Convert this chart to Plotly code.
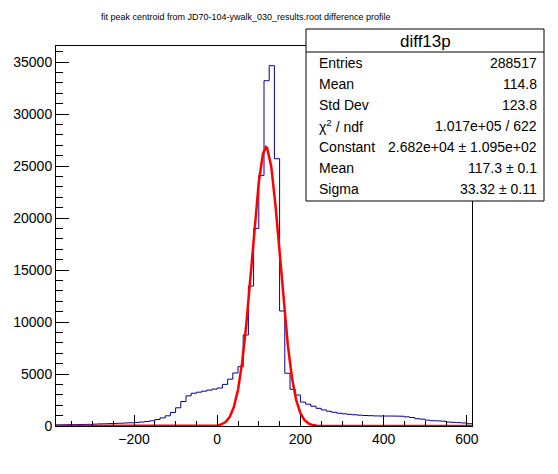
import numpy as np
import plotly.graph_objects as go

# histogram diff13p: 80 bins of 12.5 from -387.5 to 612.5
BIN_LOW = -387.5
BIN_WIDTH = 12.5
counts = [
    110, 120, 130, 130, 140, 150, 160, 180, 200, 210,
    230, 250, 270, 290, 310, 340, 380, 430, 500, 620,
    780, 980, 1300, 1750, 2350, 2900, 3150, 3250, 3350, 3450,
    3550, 3650, 4000, 4500, 5100, 5700, 8750, 13460, 19000, 24100,
    33200, 34650, 25700, 11060, 5070, 3530, 2980, 2300, 2100, 1900,
    1700, 1550, 1420, 1320, 1230, 1170, 1120, 1080, 1040, 1010,
    990, 970, 960, 960, 960, 950, 940, 880, 820, 700,
    660, 560, 510, 490, 460, 380, 350, 320, 290, 220,
]
edges = BIN_LOW + BIN_WIDTH * np.arange(len(counts) + 1)

# gaus fit curve
fit_x = [-387.5, -10, 0, 10, 20, 30, 40, 50, 60, 70, 80, 90, 100, 110, 117.3,
         120, 130, 140, 150, 160, 170, 180, 190, 200, 210, 220, 230, 240, 250, 612.5]
fit_y = [0, 18, 55, 150, 377, 867, 1819, 3489, 6115, 9792, 14333, 19174, 23438, 26184, 26820,
         26732, 24942, 21266, 16569, 11798, 7679, 4566, 2482, 1233, 560, 232, 88, 30, 10, 0]

x_ticks = [-200, 0, 200, 400, 600]
y_ticks = [0, 5000, 10000, 15000, 20000, 25000, 30000, 35000]

stats_title = "diff13p"
stats_labels = ["Entries", "Mean", "Std Dev", "χ<sup>2</sup> / ndf", "Constant", "Mean", "Sigma"]
stats_values = ["288517", "114.8", "123.8", "1.017e+05 / 622",
                "2.682e+04 ± 1.095e+02", "117.3 ± 0.1", "33.32 ± 0.11"]

TITLE = "fit peak centroid from JD70-104-ywalk_030_results.root difference profile"

# frame in pixels
L, R, T, B = 56, 472, 46, 426
W, H = 558, 474


def px(x):
    return (x - L) / (R - L)


def py(y):
    return (B - y) / (B - T)


FONT = "Liberation Sans, Arial, Helvetica, sans-serif"

fig = go.Figure()

fig.add_trace(go.Scatter(
    x=edges,
    y=counts + [counts[-1]],
    mode="lines",
    line=dict(shape="hv", color="#000099", width=1),
    hoverinfo="skip",
))

fig.add_trace(go.Scatter(
    x=fit_x,
    y=fit_y,
    mode="lines",
    line=dict(color="#ff0000", width=2.5),
    hoverinfo="skip",
))

axis_common = dict(
    showgrid=False,
    zeroline=False,
    showline=True,
    linecolor="black",
    linewidth=1,
    mirror=True,
    ticks="inside",
    tickcolor="black",
    tickfont=dict(family=FONT, size=14, color="black"),
)

fig.update_xaxes(
    range=[BIN_LOW, BIN_LOW + BIN_WIDTH * len(counts)],
    tickvals=x_ticks,
    ticktext=[str(v).replace("-", "\u2212") for v in x_ticks],
    ticklen=11,
    minor=dict(dtick=50, tick0=0, ticks="inside", ticklen=5, tickcolor="black"),
    **axis_common,
)
fig.update_yaxes(
    range=[0, 36540],
    tickvals=y_ticks,
    ticktext=[str(v) for v in y_ticks],
    ticklen=13,
    minor=dict(dtick=1000, tick0=0, ticks="inside", ticklen=7, tickcolor="black"),
    **axis_common,
)

shapes = [
    dict(type="rect", xref="paper", yref="paper",
         x0=px(306), x1=px(544), y0=py(201), y1=py(29),
         fillcolor="white", line=dict(color="black", width=1), layer="above"),
    dict(type="line", xref="paper", yref="paper",
         x0=px(306), x1=px(544), y0=py(52), y1=py(52),
         line=dict(color="black", width=1), layer="above"),
]

annotations = [
    dict(text=TITLE, xref="paper", yref="paper", x=px(245), y=py(17),
         xanchor="center", yanchor="middle", showarrow=False,
         font=dict(family=FONT, size=9, color="black")),
    dict(text=stats_title, xref="paper", yref="paper", x=px(425), y=py(41),
         xanchor="center", yanchor="middle", showarrow=False,
         font=dict(family=FONT, size=17, color="black")),
]
for i, (lab, val) in enumerate(zip(stats_labels, stats_values)):
    yy = 63 + 21 * i
    annotations.append(dict(text=lab, xref="paper", yref="paper", x=px(317), y=py(yy),
                            xanchor="left", yanchor="middle", showarrow=False,
                            font=dict(family=FONT, size=14, color="black")))
    annotations.append(dict(text=val, xref="paper", yref="paper", x=px(539), y=py(yy),
                            xanchor="right", yanchor="middle", showarrow=False,
                            font=dict(family=FONT, size=14, color="black")))

fig.update_layout(
    width=W,
    height=H,
    margin=dict(l=L, r=W - R, t=T, b=H - B),
    paper_bgcolor="white",
    plot_bgcolor="white",
    showlegend=False,
    shapes=shapes,
    annotations=annotations,
)

# drop the default page margin so the figure sits at the window corner
fig.write_html("out.html", config={"displayModeBar": False},
               post_script="document.body.style.margin='0';")
